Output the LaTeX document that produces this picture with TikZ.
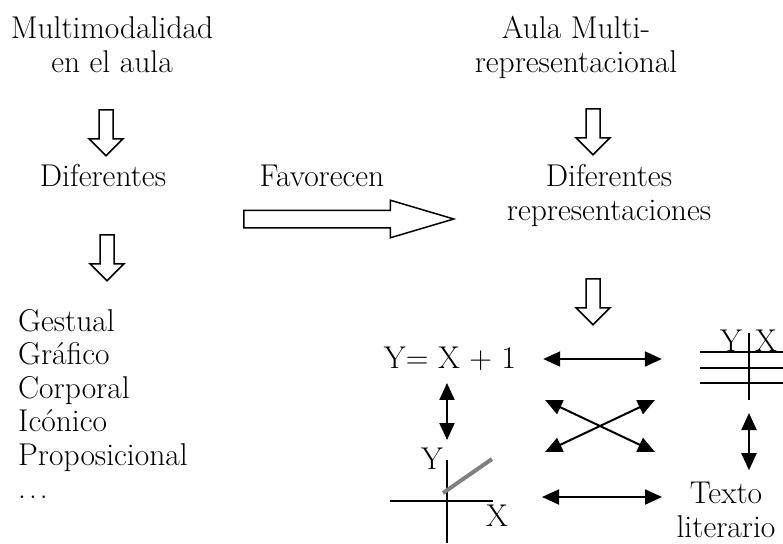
\documentclass[tikz,border=0pt]{standalone}
\usepackage{tikz}
\usetikzlibrary{arrows.meta,positioning,shapes.arrows,calc}
\definecolor{ink}{RGB}{0,0,0}
\definecolor{graphline}{RGB}{128,128,128}
\tikzset{
  txt/.style={font=\fontsize{31.5}{33.5}\selectfont,inner sep=0pt,
    align=center,text=ink},
  hollowdown/.style={single arrow,draw=ink,line width=1.5pt,
    minimum height=46pt,minimum width=33pt,
    single arrow head extend=10pt,inner xsep=0pt,inner ysep=6.25pt,
    rotate=-90,anchor=tail},
  bigarrow/.style={single arrow,draw=ink,line width=1.5pt,
    minimum height=210pt,minimum width=36pt,
    single arrow head extend=10pt,single arrow tip angle=33,
    inner xsep=0pt,inner ysep=8pt,anchor=tail},
  dbl/.style={draw=ink,line width=2pt,
    {Triangle[length=17pt,width=15pt]}-{Triangle[length=17pt,width=15pt]}},
  axisline/.style={draw=ink,line width=2pt}
}

\begin{document}
\begin{tikzpicture}[x=1pt,y=-1pt]
  \useasboundingbox (0,0) rectangle (783,543);

  % left column
  \node[txt] (multi) at (112,44.5) {Multimodalidad\\en el aula};
  \node[hollowdown] (la1) at (106,109) {};
  \node[txt] (dif1) at (103,176) {Diferentes};
  \node[hollowdown] (la2) at (107,234) {};
  \node[txt,align=left,anchor=north west] (list) at (18,309)
    {Gestual\\Gráfico\\Corporal\\Icónico\\Proposicional\\.\kern3pt.\kern3pt.};

  % middle
  \node[txt] (fav) at (322,176) {Favorecen};
  \node[bigarrow] (fwd) at (243,219) {};

  % right column
  \node[txt] (aulam) at (576,47.6) {Aula Multi-\\representacional};
  \node[hollowdown] (ra1) at (593,108) {};
  \node[txt] (dif2) at (609,195.6) {Diferentes\\representaciones};
  \node[hollowdown] (ra2) at (593,278) {};

  % the four representations
  \node[txt] (eq) at (450,359) {Y= X + 1};

  \node[minimum width=83pt,minimum height=67pt,inner sep=0pt] (tab) at (741.5,366.5) {};
  \node[txt] (tY) at (731,341) {Y};
  \node[txt] (tX) at (766,341) {X};
  \foreach \yy in {352,368,383}
    \draw[axisline] (700,\yy) -- (783,\yy);
  \draw[axisline] (749,333) -- (749,400);
  \coordinate (tv) at (749,400);

  \coordinate (o) at (447,501);
  \coordinate (ytop) at (447,460);
  \draw[axisline] (390,501) -- (493,501);
  \draw[axisline] (ytop) -- (447,543);
  \draw[graphline,line width=4pt] (443,493) -- (492,459);
  \node[txt] (gY) at (432,459) {Y};
  \node[txt] (gX) at (497,516) {X};

  \node[txt] (tex) at (726,510) {Texto\\literario};

  % connectors
  \coordinate (xa) at (545,400);
  \coordinate (xb) at (655,452);
  \coordinate (xc) at (545,452);
  \coordinate (xd) at (655,400);
  \coordinate (ba) at (542,497);
  \coordinate (bb) at (662,497);

  \draw[dbl,shorten <=27pt,shorten >=38pt] (eq.east) -- (tab.west |- eq.east);
  \draw[dbl,shorten <=12pt,shorten >=20pt] (eq.south -| ytop) -- (ytop);
  \draw[dbl,shorten <=13pt,shorten >=12pt] (tv) -- (tv |- tex.north);
  \draw[dbl] (xa) -- (xb);
  \draw[dbl] (xc) -- (xd);
  \draw[dbl] (ba) -- (bb);
\end{tikzpicture}
\end{document}
